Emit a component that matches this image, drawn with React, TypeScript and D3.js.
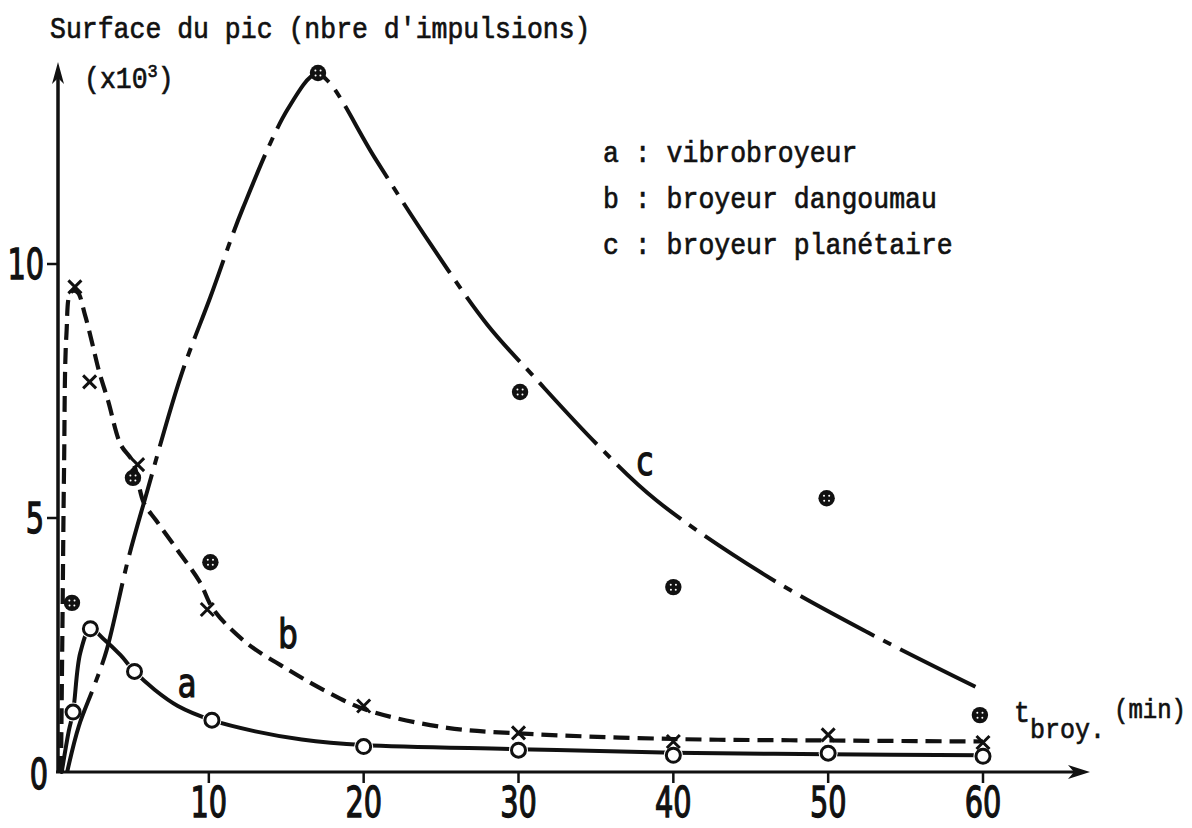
import React from "react";
import * as d3 from "d3";

// ---- data ----
// markers (time in min, peak area x10^3)
const aTimes = [1.23, 2.35, 5.2, 10.2, 20, 30, 40, 50, 60];
const aValues = [1.18, 2.82, 1.98, 1.02, 0.5, 0.43, 0.33, 0.37, 0.31];
const bTimes = [1.35, 2.3, 5.4, 9.9, 20, 30, 40, 50, 60];
const bValues = [9.55, 7.68, 6.05, 3.2, 1.3, 0.77, 0.6, 0.73, 0.58];
const cTimes = [1.16, 5.1, 10.1, 17.05, 30.1, 40, 49.9, 59.8];
const cValues = [3.33, 5.79, 4.13, 13.76, 7.48, 3.64, 5.39, 1.12];

// hand-drawn fitted curves
const aCurve: [number, number][] = [
  [0.5, 0], [0.95, 0.8], [1.23, 1.18], [1.7, 2.35], [2.35, 2.82], [3.2, 2.62],
  [4.3, 2.3], [5.2, 1.98], [6.5, 1.62], [8, 1.3], [10.2, 1.02], [13, 0.8],
  [16, 0.64], [20, 0.53], [30, 0.45], [40, 0.38], [50, 0.35], [60, 0.33],
];
const bCurve: [number, number][] = [
  [0.45, 0], [0.55, 3], [0.65, 6], [0.8, 8.6], [1.1, 9.45], [1.5, 9.45],
  [2.0, 9.0], [2.5, 8.4], [2.9, 7.9], [3.5, 7.3], [4.3, 6.45], [5.1, 6.1],
  [5.8, 5.3], [6.6, 4.95], [7.9, 4.4], [9.4, 3.75], [10.3, 3.2], [12.4, 2.55],
  [15.2, 2.0], [17.5, 1.6], [20.2, 1.22], [25.4, 0.87], [30, 0.76], [40, 0.65],
  [50, 0.62], [60, 0.6],
];
const cCurve: [number, number][] = [
  [0.85, 0], [1.6, 0.9], [2.6, 1.7], [3.4, 2.4], [4.8, 4.2], [5.9, 5.4],
  [8.2, 7.8], [10.1, 9.35], [12.2, 11.1], [15.1, 13.05], [16.9, 13.74],
  [17.7, 13.6], [20.7, 12.1], [24.3, 10.4], [28, 8.8], [31, 7.78], [35.1, 6.44],
  [38.9, 5.35], [45.8, 3.9], [52.6, 2.74], [59.7, 1.65],
];

const xTicks = [10, 20, 30, 40, 50, 60];
const yTicks = [5, 10];
const legendItems = ["a : vibrobroyeur", "b : broyeur dangoumau", "c : broyeur planétaire"];
const titleText = "Surface du pic (nbre d'impulsions)";

const MONO = "'Liberation Mono', 'DejaVu Sans Mono', monospace";
const NARROW = "'Liberation Sans Narrow', 'DejaVu Sans Condensed', 'Liberation Sans', sans-serif";

export default function App() {
  const W = 1192, H = 828;
  const x = d3.scaleLinear().domain([0, 60]).range([54, 983]);
  const y = d3.scaleLinear().domain([0, 10]).range([772, 264]);
  const line = d3.line<[number, number]>()
    .x((d) => x(d[0]))
    .y((d) => y(d[1]))
    .curve(d3.curveCatmullRom.alpha(0.5));

  const axX = x(0) + 4;
  const axY = y(0);
  const ink = "#111";
  const monoProps = { fontFamily: MONO, fill: ink, stroke: ink, strokeWidth: 0.6 };
  const numProps = { fontFamily: NARROW, fill: ink, stroke: ink, strokeWidth: 1.2 };

  return (
    <svg width={W} height={H} style={{ position: "absolute", left: 0, top: 0, background: "#fff" }}>
      {/* axes */}
      <line x1={axX} y1={axY} x2={axX} y2={72} stroke={ink} strokeWidth={3.5} />
      <path d={`M${axX},62 L${axX - 6},84 L${axX},78 L${axX + 6},84 Z`} fill={ink} />
      <line x1={axX - 2} y1={axY} x2={1080} y2={axY} stroke={ink} strokeWidth={3} />
      <path d={`M1090,${axY} L1068,${axY - 7} L1074,${axY} L1068,${axY + 7} Z`} fill={ink} />

      {xTicks.map((t) => (
        <g key={"xt" + t}>
          <line x1={x(t)} x2={x(t)} y1={axY} y2={axY + 11} stroke={ink} strokeWidth={2.5} />
          <text
            transform={`translate(${x(t)},${817}) scale(0.78,1.05)`}
            textAnchor="middle"
            fontSize={41}
            {...numProps}
          >
            {t}
          </text>
        </g>
      ))}
      {yTicks.map((t) => (
        <g key={"yt" + t}>
          <line x1={axX - 11} x2={axX} y1={y(t)} y2={y(t)} stroke={ink} strokeWidth={2.5} />
          <text
            transform={`translate(${axX - 14},${y(t) + 15}) scale(0.78,1.05)`}
            textAnchor="end"
            fontSize={41}
            {...numProps}
          >
            {t}
          </text>
        </g>
      ))}
      <text transform={`translate(39,${789}) scale(0.78,1.05)`} textAnchor="middle" fontSize={41} {...numProps}>
        0
      </text>

      {/* curves */}
      <path d={line(aCurve) || ""} fill="none" stroke={ink} strokeWidth={4} strokeLinecap="round" />
      {aTimes.map((t, i) => (
        <circle key={"ah" + i} cx={x(t)} cy={y(aValues[i])} r={9.5} fill="#fff" />
      ))}
      <path d={line(bCurve) || ""} fill="none" stroke={ink} strokeWidth={4.2} strokeDasharray="16 8" />
      <path d={line(cCurve) || ""} fill="none" stroke={ink} strokeWidth={4} strokeDasharray="84 10 9 10" />

      {/* markers a: open circles */}
      {aTimes.map((t, i) => (
        <circle key={"a" + i} cx={x(t)} cy={y(aValues[i])} r={7} fill="#fff" stroke={ink} strokeWidth={3} />
      ))}
      {/* markers b: crosses */}
      {bTimes.map((t, i) => {
        const cx = x(t), cy = y(bValues[i]), s = 6.5;
        return (
          <path key={"b" + i} d={`M${cx - s},${cy - s}L${cx + s},${cy + s}M${cx - s},${cy + s}L${cx + s},${cy - s}`} stroke={ink} strokeWidth={3} />
        );
      })}
      {/* markers c: circled crosses */}
      {cTimes.map((t, i) => {
        const cx = x(t), cy = y(cValues[i]);
        return (
          <g key={"c" + i}>
            <circle cx={cx} cy={cy} r={8.2} fill={ink} />
            {[[-2.6, -2.4], [2.6, -2.4], [-2.4, 2.6], [2.4, 2.6]].map((o, j) => (
              <circle key={j} cx={cx + o[0]} cy={cy + o[1]} r={1} fill="#fff" />
            ))}
          </g>
        );
      })}

      {/* curve labels */}
      <text transform="translate(187,697) scale(0.85,1)" textAnchor="middle" fontSize={40} {...numProps}>a</text>
      <text transform="translate(288,648) scale(0.85,1)" textAnchor="middle" fontSize={40} {...numProps}>b</text>
      <text transform="translate(645,475) scale(0.85,1)" textAnchor="middle" fontSize={40} {...numProps}>c</text>

      {/* titles */}
      <text transform="translate(50,38) scale(1,1.12)" fontSize={26.5} {...monoProps}>{titleText}</text>
      <text transform="translate(84,88) scale(1,1.12)" fontSize={26.5} {...monoProps}>
        (x10<tspan dy={-10} fontSize={17}>3</tspan><tspan dy={10}>)</tspan>
      </text>

      {legendItems.map((s, i) => (
        <text key={s} transform={`translate(603,${162 + i * 46}) scale(1,1.12)`} fontSize={26.5} {...monoProps}>{s}</text>
      ))}

      <text transform="translate(1014,722) scale(1,1.12)" fontSize={26.5} {...monoProps}>t</text>
      <text transform="translate(1030,738) scale(1,1.12)" fontSize={25} {...monoProps}>broy.</text>
      <text transform="translate(1114,718) scale(1,1.12)" fontSize={24} {...monoProps}>(min)</text>
    </svg>
  );
}
